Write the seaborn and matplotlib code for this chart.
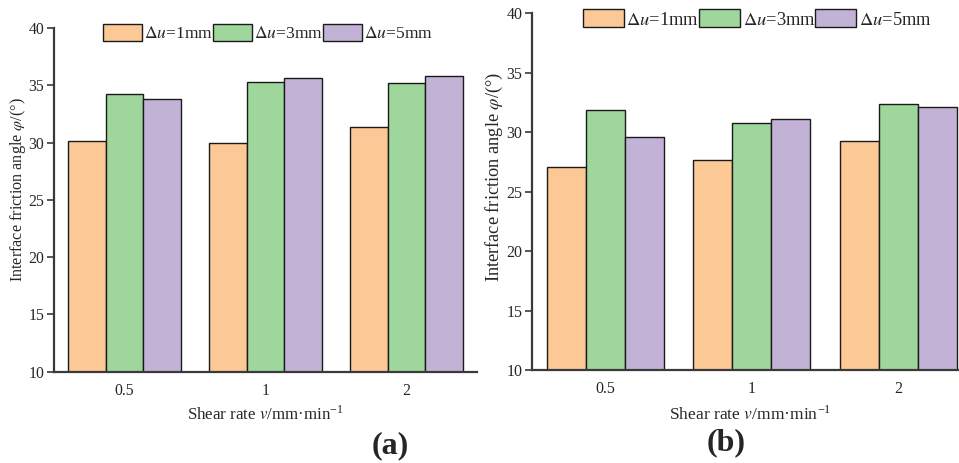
import matplotlib
matplotlib.use("Agg")
import matplotlib.pyplot as plt
import seaborn as sns
import pandas as pd

# Shear rates (mm/min) and shear displacement groups
rates = ["0.5", "1", "2"]
groups = [r"$\Delta u$=1mm", r"$\Delta u$=3mm", r"$\Delta u$=5mm"]

# Interface friction angle (deg), panel (a)
phi_a_1mm = [30.15, 30.0, 31.33]
phi_a_3mm = [34.2, 35.26, 35.17]
phi_a_5mm = [33.8, 35.67, 35.84]

# Interface friction angle (deg), panel (b)
phi_b_1mm = [27.1, 27.66, 29.23]
phi_b_3mm = [31.87, 30.8, 32.34]
phi_b_5mm = [29.6, 31.14, 32.14]

colors = ["#FCC896", "#9ED69C", "#C2B3D6"]

sns.set_theme(style="white")
plt.rcParams["font.family"] = ["Liberation Serif", "DejaVu Serif"]
plt.rcParams["mathtext.fontset"] = "stix"


def to_frame(s1, s2, s3):
    rows = []
    for g, vals in zip(groups, [s1, s2, s3]):
        for r, v in zip(rates, vals):
            rows.append({"rate": r, "group": g, "phi": v})
    return pd.DataFrame(rows)


fig = plt.figure(figsize=(9.59, 4.63), dpi=100)
W, H = 959, 463


def px(x, y):
    return x / W, (H - y) / H


panels = [
    dict(df=to_frame(phi_a_1mm, phi_a_3mm, phi_a_5mm),
         rect=[54 / W, (H - 371.7) / H, 423 / W, (371.7 - 28) / H],
         leg=px(103, 33), tag="(a)", tagpos=px(390, 446),
         xlab=px(265, 414), ylab=px(18, 190),
         tick_fs=11.3, lab_fs=12.2, ylab_fs=11.6, leg_fs=12.6),
    dict(df=to_frame(phi_b_1mm, phi_b_3mm, phi_b_5mm),
         rect=[532 / W, (H - 370) / H, 439.5 / W, (370 - 13.3) / H],
         leg=px(583, 19), tag="(b)", tagpos=px(726, 443),
         xlab=px(750, 414), ylab=px(494, 177),
         tick_fs=11.5, lab_fs=12.6, ylab_fs=13.2, leg_fs=13.3),
]

spine_col = "#3a3a3a"

for p in panels:
    ax = fig.add_axes(p["rect"])
    sns.barplot(data=p["df"], x="rate", y="phi", hue="group", hue_order=groups,
                palette=colors, saturation=1, edgecolor="#1a1a1a", linewidth=1.0,
                width=0.8, ax=ax, legend=True)
    ax.set_xlim(-0.5, 2.5)
    ax.set_ylim(10, 40)
    ax.set_yticks([10, 15, 20, 25, 30, 35, 40])
    for s in ["top", "right"]:
        ax.spines[s].set_visible(False)
    for s in ["left", "bottom"]:
        ax.spines[s].set_color(spine_col)
        ax.spines[s].set_linewidth(1.6)
    ax.tick_params(axis="y", direction="out", length=5, width=1.2,
                   color=spine_col, labelsize=p["tick_fs"], pad=2, left=True)
    ax.tick_params(axis="x", direction="in", length=5, width=1.2,
                   color=spine_col, labelsize=p["tick_fs"], pad=8, bottom=True)
    ax.set_xlabel("")
    ax.set_ylabel("")

    handles, labels = ax.get_legend_handles_labels()
    ax.get_legend().remove()
    fig.legend(handles, labels, loc="center left", bbox_to_anchor=p["leg"],
               ncol=3, frameon=False, fontsize=p["leg_fs"], handlelength=2.2,
               handleheight=1.1, handletextpad=0.15, columnspacing=0.0,
               borderpad=0, borderaxespad=0)

    fig.text(p["ylab"][0], p["ylab"][1], r"Interface friction angle $\varphi$/(°)",
             rotation=90, ha="center", va="center", fontsize=p["ylab_fs"])
    fig.text(p["xlab"][0], p["xlab"][1], r"Shear rate $v$/mm·min$^{\mathregular{-1}}$",
             ha="center", va="center", fontsize=p["lab_fs"])
    fig.text(p["tagpos"][0], p["tagpos"][1], p["tag"], ha="center", va="center",
             fontsize=23, fontweight="bold")

fig.savefig("out.png", dpi=100)
